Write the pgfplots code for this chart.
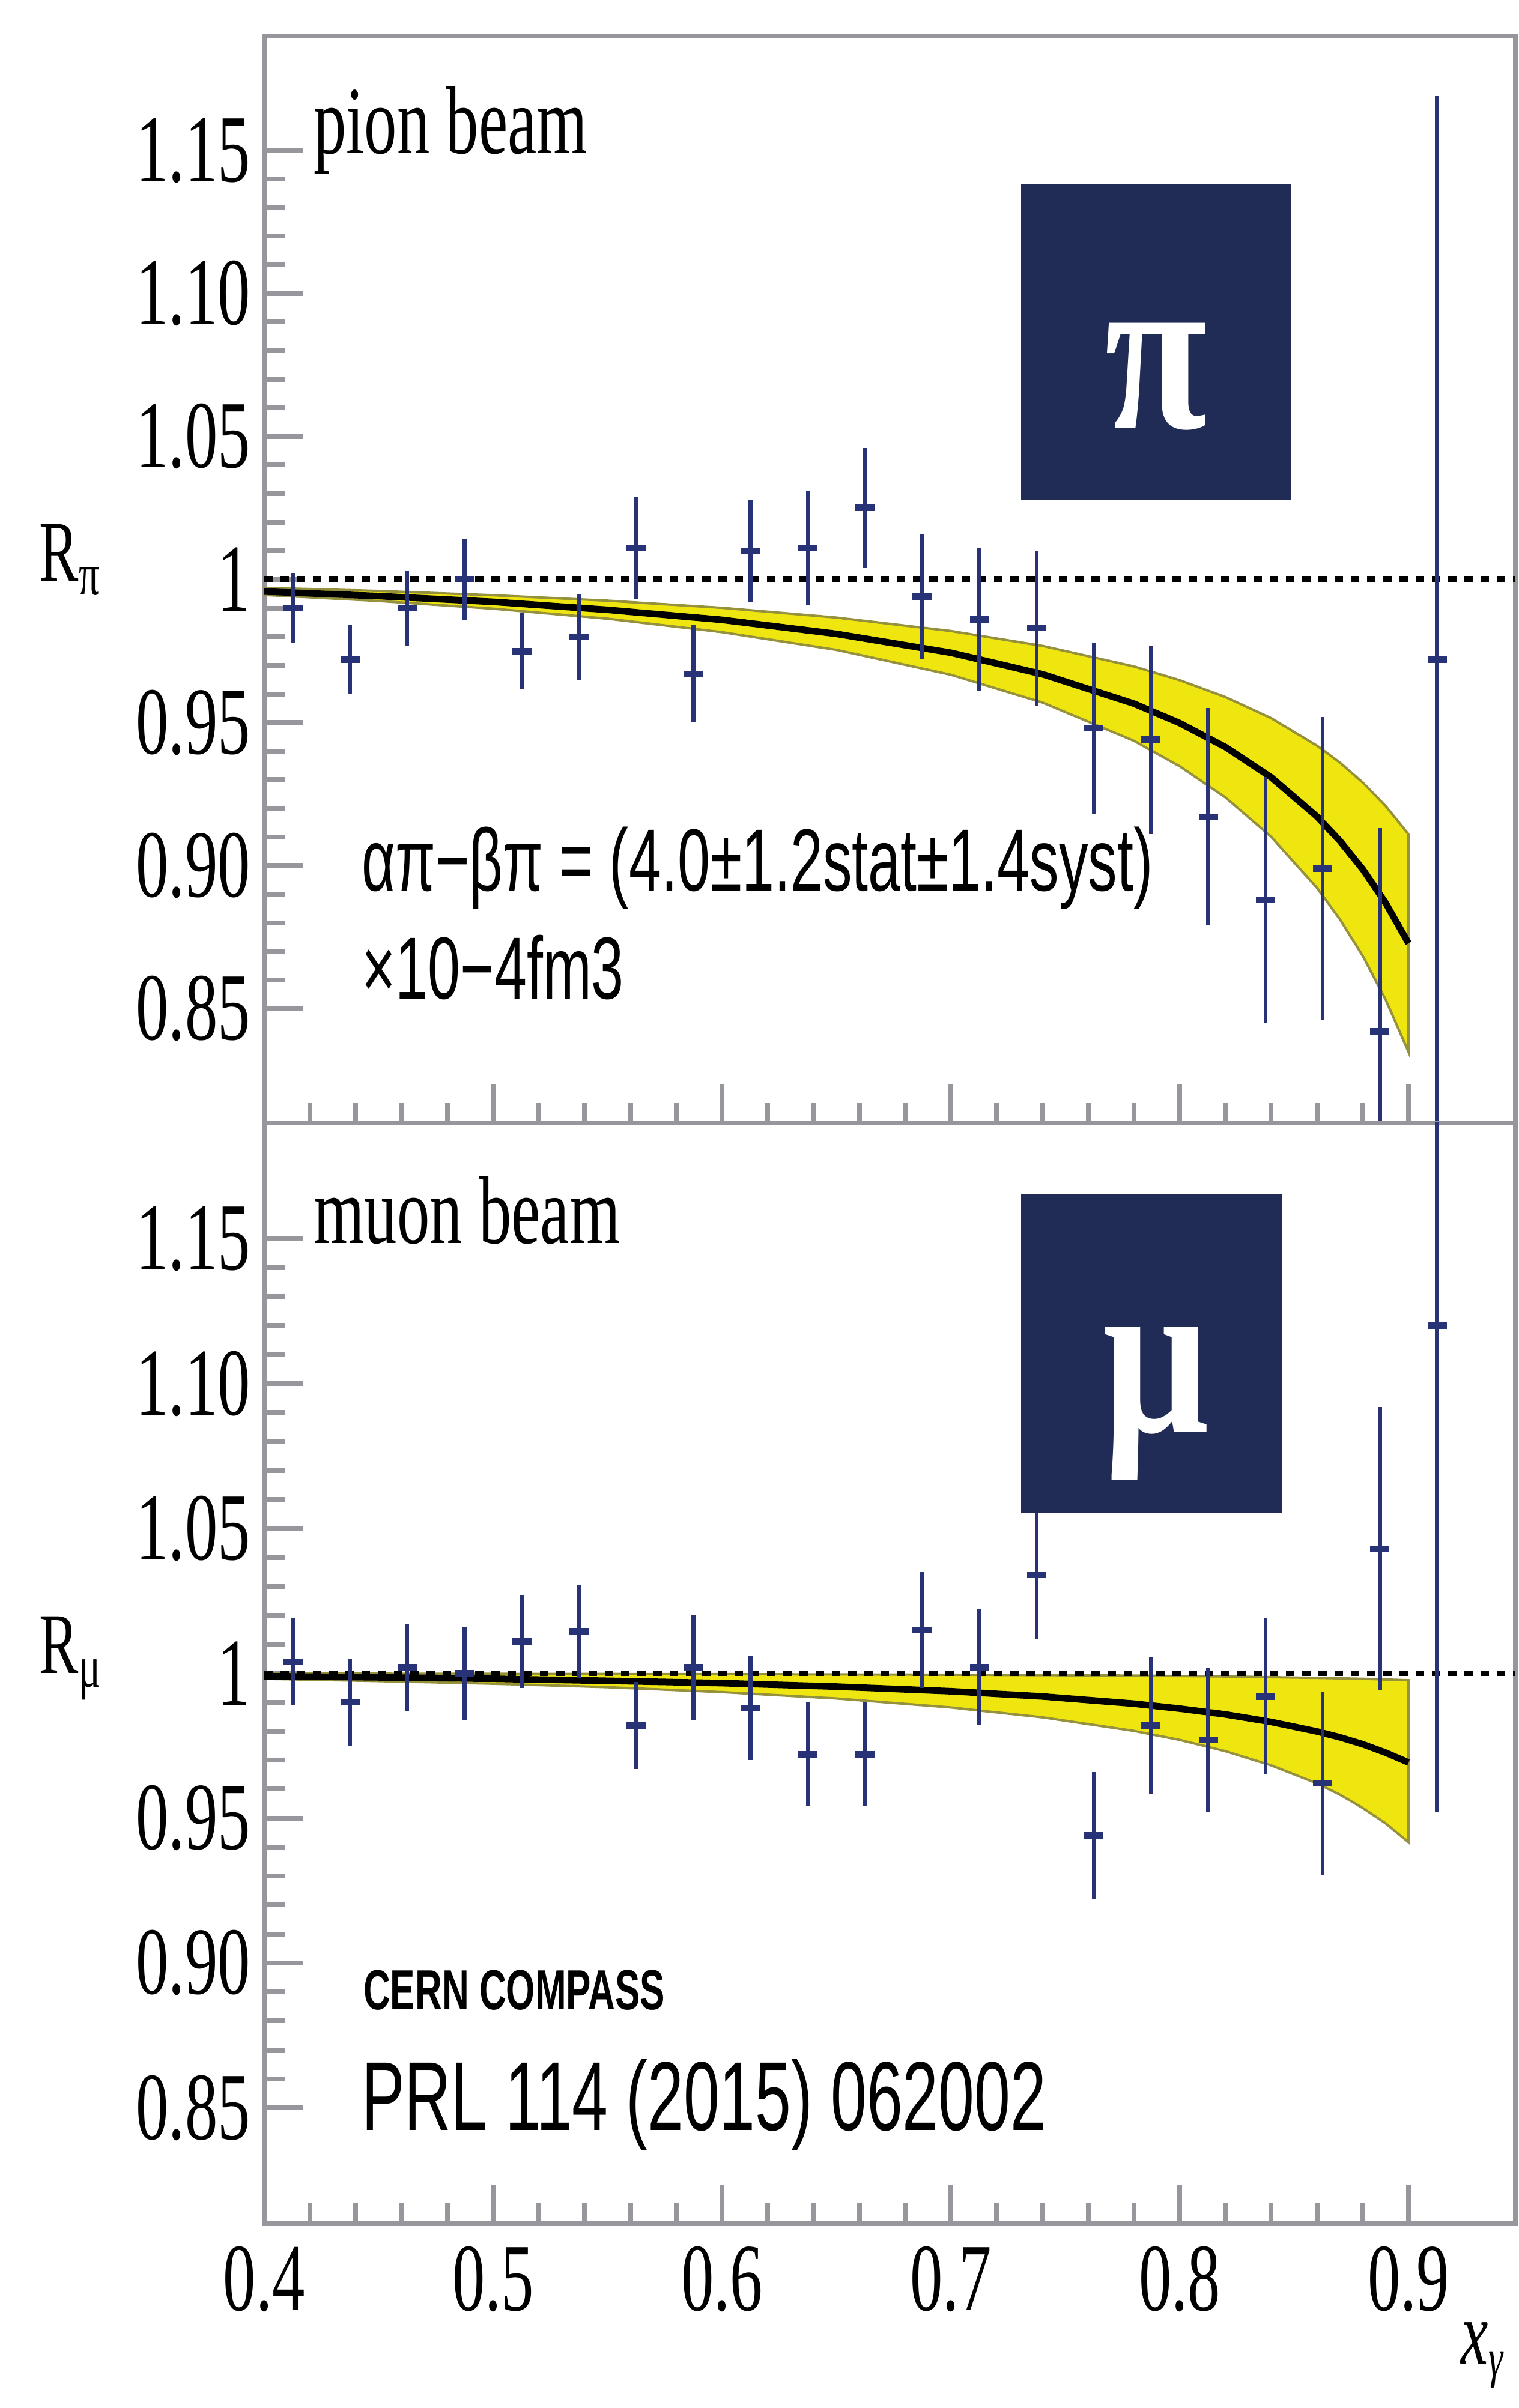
\documentclass[border=0pt]{standalone}
\usepackage{fontspec}
\usepackage{pgfplots}
\usepackage{pgfplotstable}
\pgfplotsset{compat=1.18}

% the reference is squeezed sideways, so all fonts are narrowed
\newfontfamily\serifn{Liberation Serif}[FakeStretch=0.68]
\newfontfamily\sansn{Liberation Sans}[FakeStretch=0.66]
\newfontfamily\boxf{Liberation Serif}[FakeStretch=0.82]

\definecolor{boxblue}{RGB}{33,44,86}
\definecolor{fitband}{RGB}{240,230,15}
\definecolor{bandedge}{RGB}{150,145,60}
\definecolor{datablue}{RGB}{40,50,118}
\definecolor{framegray}{RGB}{150,150,156}

% pion beam: x, R, stat error
\pgfplotstableread{
x y e
0.4125 0.990 0.012
0.4375 0.972 0.012
0.4625 0.990 0.013
0.4875 1.000 0.014
0.5125 0.975 0.0135
0.5375 0.980 0.015
0.5625 1.011 0.018
0.5875 0.967 0.017
0.6125 1.010 0.018
0.6375 1.011 0.020
0.6625 1.025 0.021
0.6875 0.994 0.022
0.7125 0.986 0.025
0.7375 0.983 0.027
0.7625 0.948 0.030
0.7875 0.944 0.033
0.8125 0.917 0.038
0.8375 0.888 0.043
0.8625 0.899 0.053
0.8875 0.842 0.071
0.9125 0.972 0.197
}\pionpts

% muon beam
\pgfplotstableread{
x y e
0.4125 1.004 0.015
0.4375 0.990 0.015
0.4625 1.002 0.015
0.4875 1.000 0.016
0.5125 1.011 0.016
0.5375 1.0145 0.016
0.5625 0.982 0.015
0.5875 1.002 0.018
0.6125 0.988 0.018
0.6375 0.972 0.018
0.6625 0.972 0.018
0.6875 1.015 0.020
0.7125 1.002 0.020
0.7375 1.034 0.022
0.7625 0.944 0.022
0.7875 0.982 0.0235
0.8125 0.977 0.025
0.8375 0.992 0.027
0.8625 0.962 0.0315
0.8875 1.043 0.049
0.9125 1.120 0.168
}\muonpts

\tikzset{lab/.style={anchor=base west, inner sep=0pt}}

\pgfplotsset{
  panel/.style={
    scale only axis, width=208.3pt,
    xmin=0.4, xmax=0.9467, ymin=0.81, ymax=1.19,
    xtick={0.4,0.5,0.6,0.7,0.8,0.9},
    ytick={0.85,0.90,0.95,1,1.05,1.10,1.15},
    yticklabels={0.85,0.90,0.95,1,1.05,1.10,1.15},
    minor x tick num=4, minor y tick num=4,
    xtick pos=lower, ytick pos=left,
    tick align=inside,
    major tick length=6.5pt, minor tick length=3.4pt,
    axis line style={draw=framegray, line width=0.8pt},
    tick style={draw=framegray, line width=0.8pt},
    tick label style={font=\serifn\fontsize{16}{16}\selectfont, text=black},
    yticklabel style={inner sep=0pt, xshift=-2.1pt},
    xticklabel style={inner sep=0pt, yshift=-3.6pt},
    clip mode=individual,
  },
  pts/.style={only marks, mark=-, mark size=1.6pt, color=datablue,
    mark options={line width=1.1pt},
    error bars/.cd, y dir=both, y explicit, error mark=none,
    error bar style={line width=0.65pt, datablue}},
}

\begin{document}
\begin{tikzpicture}
\useasboundingbox (-44pt,-214pt) rectangle (208.8pt,187pt);

% ---- pion beam ----
\begin{axis}[panel, height=181pt, at={(0,0)}, anchor=south west, xticklabels={}]
  \addplot[fill=fitband, draw=bandedge, line width=0.4pt] coordinates {
    (0.40,0.9971)(0.45,0.9960)(0.50,0.9945)(0.55,0.9926)(0.60,0.9901)(0.65,0.9867)
    (0.70,0.9820)(0.74,0.9768)(0.78,0.9696)(0.80,0.9648)(0.82,0.9589)(0.84,0.9515)
    (0.86,0.9419)(0.87,0.9360)(0.88,0.9290)(0.89,0.9208)(0.90,0.9109)
    (0.90,0.8348)(0.89,0.8531)(0.88,0.8684)(0.87,0.8812)(0.86,0.8922)(0.84,0.9100)
    (0.82,0.9238)(0.80,0.9347)(0.78,0.9436)(0.74,0.9570)(0.70,0.9667)(0.65,0.9754)
    (0.60,0.9816)(0.55,0.9863)(0.50,0.9898)(0.45,0.9925)(0.40,0.9946)} -- cycle;
  \addplot[black, line width=1.1pt] coordinates {
    (0.40,0.9958)(0.45,0.9942)(0.50,0.9922)(0.55,0.9894)(0.60,0.9859)(0.65,0.9810)
    (0.70,0.9744)(0.74,0.9669)(0.78,0.9566)(0.80,0.9498)(0.82,0.9414)(0.84,0.9308)
    (0.86,0.9171)(0.87,0.9086)(0.88,0.8987)(0.89,0.8869)(0.90,0.8728)};
  \addplot[black, line width=0.9pt, dash pattern=on 1.4pt off 1.3pt] coordinates {(0.4,1) (0.9467,1)};
  \addplot[pts] table[x=x, y=y, y error=e] {\pionpts};

  \fill[boxblue] (axis cs:0.7307,1.0279) rectangle (axis cs:0.8488,1.1383);
  \node[anchor=base, inner sep=0pt, text=white, font=\boxf\bfseries\fontsize{38}{38}\selectfont]
    at (axis cs:0.7898,1.0531) {π};

  \node[lab, font=\serifn\fontsize{16}{16}\selectfont] at (axis cs:0.421,1.149) {pion beam};
  \node[lab, font=\serifn\fontsize{14.4}{14.4}\selectfont] at (axis cs:0.3013,0.9994)
    {R\raisebox{-0.35ex}{\fontsize{10}{10}\selectfont π}};
  \node[lab, font=\sansn\fontsize{14.7}{14.7}\selectfont] at (axis cs:0.442,0.8912)
    {απ−βπ = (4.0±1.2stat±1.4syst)};
  \node[lab, font=\sansn\fontsize{14.7}{14.7}\selectfont] at (axis cs:0.442,0.8533)
    {×10−4fm3};
\end{axis}

% ---- muon beam ----
\begin{axis}[panel, height=183.3pt, at={(0,0)}, anchor=north west,
    xticklabels={0.4,0.5,0.6,0.7,0.8,0.9}]
  \addplot[fill=fitband, draw=bandedge, line width=0.4pt] coordinates {
    (0.40,0.9999)(0.50,0.9998)(0.60,0.9997)(0.70,0.9995)(0.78,0.9992)(0.82,0.9989)
    (0.86,0.9984)(0.88,0.9981)(0.90,0.9976)
    (0.90,0.9417)(0.89,0.9482)(0.88,0.9535)(0.87,0.9581)(0.86,0.9620)(0.84,0.9682)
    (0.82,0.9731)(0.80,0.9770)(0.78,0.9801)(0.74,0.9848)(0.70,0.9882)(0.65,0.9913)
    (0.60,0.9935)(0.55,0.9952)(0.50,0.9964)(0.45,0.9973)(0.40,0.9981)} -- cycle;
  \addplot[black, line width=1.1pt] coordinates {
    (0.40,0.9990)(0.45,0.9986)(0.50,0.9981)(0.55,0.9974)(0.60,0.9966)(0.65,0.9954)
    (0.70,0.9938)(0.74,0.9920)(0.78,0.9895)(0.80,0.9878)(0.82,0.9858)(0.84,0.9832)
    (0.86,0.9799)(0.87,0.9779)(0.88,0.9755)(0.89,0.9726)(0.90,0.9692)};
  \addplot[black, line width=0.9pt, dash pattern=on 1.4pt off 1.3pt] coordinates {(0.4,1) (0.9467,1)};
  \addplot[pts] table[x=x, y=y, y error=e] {\muonpts};

  \fill[boxblue] (axis cs:0.7307,1.0552) rectangle (axis cs:0.8446,1.1656);
  \node[anchor=base, inner sep=0pt, text=white, font=\boxf\bfseries\fontsize{38}{38}\selectfont]
    at (axis cs:0.7898,1.0833) {μ};

  \node[lab, font=\serifn\fontsize{16}{16}\selectfont] at (axis cs:0.421,1.1484) {muon beam};
  \node[lab, font=\serifn\fontsize{14.4}{14.4}\selectfont] at (axis cs:0.3013,1.0)
    {R\raisebox{-0.35ex}{\fontsize{10}{10}\selectfont μ}};
  \node[lab, font=\sansn\bfseries\fontsize{9.4}{9.4}\selectfont] at (axis cs:0.4428,0.884)
    {CERN COMPASS};
  \node[lab, font=\sansn\fontsize{16.3}{16.3}\selectfont] at (axis cs:0.442,0.8423)
    {PRL 114 (2015) 062002};
  \node[lab, font=\serifn\fontsize{15}{15}\selectfont] at (axis cs:0.9225,0.7615)
    {\itshape x\raisebox{-0.3ex}{\fontsize{9}{9}\selectfont γ}};
\end{axis}
\end{tikzpicture}
\end{document}
